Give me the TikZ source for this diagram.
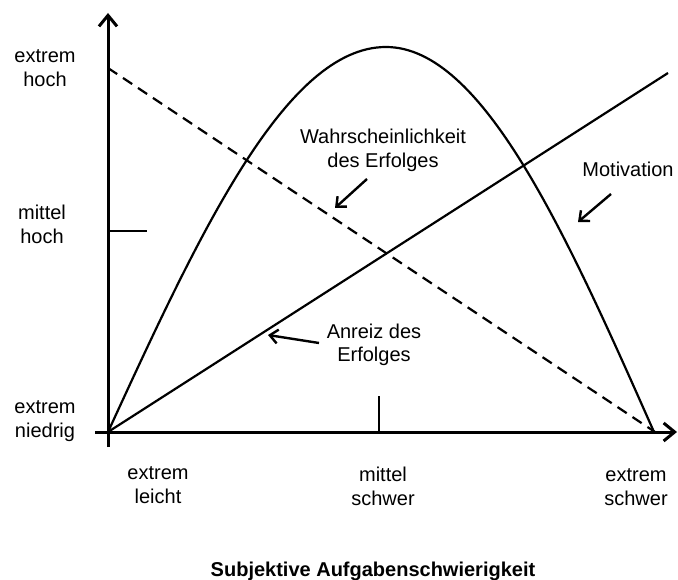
\documentclass[tikz,border=0pt]{standalone}
\usepackage{fontspec}
\setmainfont{Liberation Sans}
\usetikzlibrary{arrows.meta}
\begin{document}
\begin{tikzpicture}[x=1pt,y=-1pt,
  axisline/.style={line width=3pt,-{Straight Barb[length=11pt,width=18pt,line width=3pt]}},
  curve/.style={line width=2.2pt},
  ticks/.style={line width=2.6pt},
  pointer/.style={line width=2.4pt,-{Straight Barb[length=8pt,width=14pt,line width=2.4pt]}},
  lbl/.style={font=\fontsize{20}{24}\selectfont,align=center,inner sep=0pt,anchor=base},
  ttl/.style={font=\fontsize{20}{24}\selectfont\bfseries,inner sep=0pt,anchor=base}]
\useasboundingbox (0,0) rectangle (678,580);

% axes
\coordinate (O) at (108,432);
\coordinate (ybot) at (108,447);
\coordinate (ytop) at (108,13);
\coordinate (xleft) at (95,432);
\coordinate (xright) at (677,432);
\draw[axisline] (ybot) -- (ytop);
\draw[axisline] (xleft) -- (xright);

% tick marks
\coordinate (tyA) at (108,231);
\coordinate (tyB) at (147,231);
\coordinate (txA) at (379,432);
\coordinate (txB) at (379,396);
\draw[ticks] (tyA) -- (tyB);
\draw[ticks] (txA) -- (txB);

% curves: probability (dashed), motivation arch, incentive line
\coordinate (dashstart) at (108,68);
\coordinate (dashend) at (655,432);
\coordinate (peak) at (386,47);
\coordinate (arcend) at (654,432);
\coordinate (motend) at (668,73);
\draw[curve,dash pattern=on 11pt off 7pt] (dashstart) -- (dashend);
\draw[curve] (O) sin (peak) cos (arcend);
\draw[curve] (O) -- (motend);

% axis labels (base = baseline of the last line)
\node[lbl] (yhigh) at (45,87) {extrem\\hoch};
\node[lbl] (ymid) at (42,244) {mittel\\hoch};
\node[lbl] (ylow) at (45,437) {extrem\\niedrig};
\node[lbl] (xlow) at (158,503) {extrem\\leicht};
\node[lbl] (xmid) at (383,505) {mittel\\schwer};
\node[lbl] (xhigh) at (636,505) {extrem\\schwer};
\node[ttl] (title) at (373,576) {Subjektive Aufgabenschwierigkeit};

% curve labels with pointers
\node[lbl] (prob) at (383,168) {Wahrscheinlichkeit\\des Erfolges};
\node[lbl] (motiv) at (628,177) {Motivation};
\node[lbl] (incent) at (374,362) {Anreiz des\\Erfolges};
\coordinate (p1a) at (367,179);
\coordinate (p1b) at (335,208);
\coordinate (p2a) at (611,194);
\coordinate (p2b) at (578,222);
\coordinate (p3a) at (319,343);
\coordinate (p3b) at (268,335);
\draw[pointer] (p1a) -- (p1b);
\draw[pointer] (p2a) -- (p2b);
\draw[pointer] (p3a) -- (p3b);
\end{tikzpicture}
\end{document}
